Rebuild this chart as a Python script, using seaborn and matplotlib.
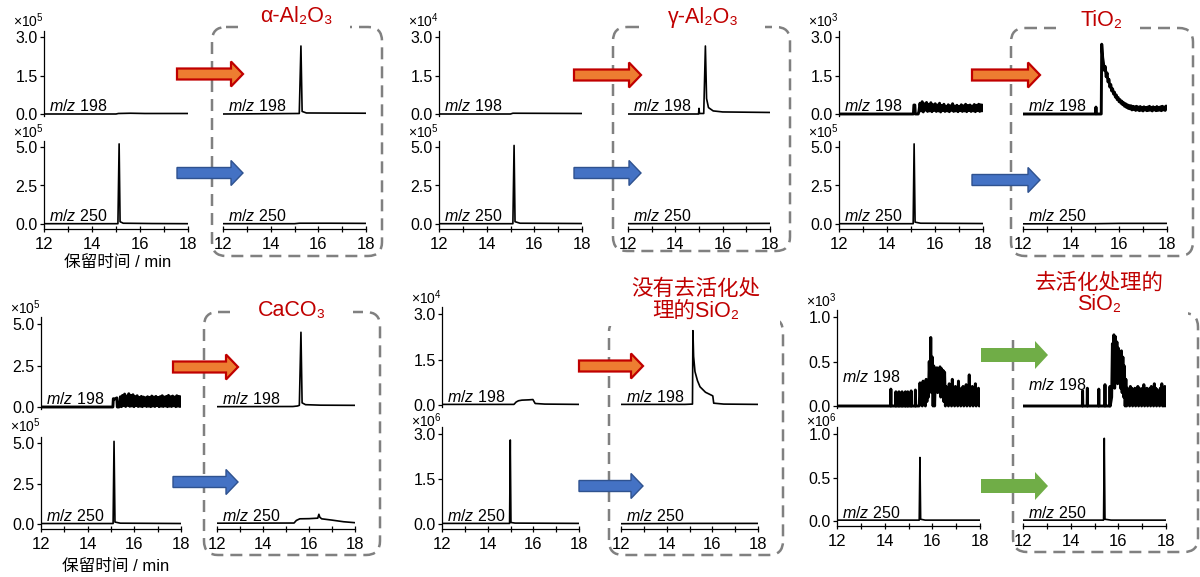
import matplotlib
matplotlib.use("Agg")
import matplotlib.pyplot as plt
import numpy as np
import seaborn as sns
from matplotlib.patches import FancyArrow, FancyBboxPatch, Rectangle
from matplotlib.ticker import MultipleLocator

sns.set_theme(style="ticks")
plt.rcParams["font.family"] = ["Liberation Sans", "Noto Sans CJK SC", "DejaVu Sans"]
plt.rcParams["mathtext.fontset"] = "custom"
plt.rcParams["mathtext.rm"] = "Liberation Sans"
plt.rcParams["mathtext.it"] = "Liberation Sans:italic"
plt.rcParams["axes.facecolor"] = "none"
plt.rcParams["axes.edgecolor"] = "black"
for k in ("text.color", "xtick.color", "ytick.color", "axes.labelcolor"):
    plt.rcParams[k] = "black"

# ---------------- data: retention time (min) / intensity in panel units ----------------
samples = ["α-Al₂O₃", "γ-Al₂O₃", "TiO₂", "CaCO₃", "没有去活化处\n理的SiO₂", "去活化处理的\nSiO₂"]
exp_198 = [5, 4, 3, 5, 4, 3]
exp_250 = [5, 5, 5, 5, 6, 6]
ymax_198 = [3.0, 3.0, 3.0, 5.0, 3.0, 1.0]
ymax_250 = [5.0, 5.0, 5.0, 5.0, 3.0, 1.0]
arrow_kind = ["orange", "orange", "orange", "orange", "orange", "green"]

# α-Al2O3
aal_l198_t = [12, 15.0, 15.1, 15.6, 16.2, 18]
aal_l198_y = [0, 0, 0.02, 0.03, 0.02, 0.02]
aal_l250_t = [12, 15.08, 15.13, 15.17, 15.3, 16.5, 18]
aal_l250_y = [0.02, 0.02, 5.2, 0.15, 0.05, 0.03, 0.02]
aal_r198_t = [12, 15.2, 15.27, 15.32, 15.5, 18]
aal_r198_y = [0, 0.02, 2.65, 0.1, 0.04, 0.03]
aal_r250_t = [12, 15.0, 15.2, 16.5, 18]
aal_r250_y = [0.02, 0.02, 0.05, 0.05, 0.04]

# γ-Al2O3
gal_l198_t = [12, 15.0, 15.1, 18]
gal_l198_y = [0, 0, 0.03, 0.02]
gal_l250_t = [12, 15.1, 15.15, 15.19, 15.4, 18]
gal_l250_y = [0.02, 0.02, 5.1, 0.15, 0.05, 0.03]
gal_r198_t = [12, 14.98, 15.0, 15.02, 15.2, 15.27, 15.32, 15.4, 15.6, 16.0, 18]
gal_r198_y = [0, 0, 0.22, 0.02, 0.02, 2.65, 0.6, 0.25, 0.12, 0.08, 0.06]
gal_r250_t = [12, 15.0, 18]
gal_r250_y = [0.02, 0.03, 0.04]

# TiO2
tio_l198_t = [12, 15.1, 15.12, 15.16, 15.18, 15.3]
tio_l198_y = [0, 0, 0.35, 0.35, 0, 0]
tio_l198_span = (15.33, 18.0)
tio_l198_noise = [0.10, 0.42, 0.12, 0.48, 0.08, 0.40, 0.15, 0.45, 0.10, 0.38, 0.12, 0.44,
                  0.09, 0.36, 0.14, 0.40, 0.10, 0.35, 0.12, 0.42, 0.08, 0.33, 0.13, 0.38,
                  0.10, 0.30, 0.12, 0.36, 0.09, 0.32, 0.14, 0.40, 0.10, 0.31, 0.12, 0.34,
                  0.09, 0.30, 0.13, 0.36, 0.10, 0.32, 0.12, 0.38, 0.09, 0.33, 0.14, 0.35,
                  0.10, 0.31, 0.12, 0.37, 0.09, 0.34, 0.13, 0.38, 0.10, 0.36, 0.12, 0.35]
tio_l250_t = [12, 15.09, 15.13, 15.17, 15.4, 18]
tio_l250_y = [0.02, 0.02, 5.2, 0.12, 0.05, 0.03]
tio_r198_t = [12, 15.02, 15.04, 15.06, 15.26, 15.28, 15.32]
tio_r198_y = [0, 0, 0.27, 0, 0, 2.72, 2.2]
tio_r198_span = (15.35, 18.0)
tio_r198_noise = [2.0, 1.7, 1.85, 1.45, 1.6, 1.25, 1.35, 1.05, 1.15, 0.9, 0.98, 0.78, 0.85, 0.66,
                  0.74, 0.56, 0.64, 0.48, 0.56, 0.42, 0.5, 0.36, 0.44, 0.3, 0.4, 0.26, 0.36, 0.22,
                  0.33, 0.2, 0.32, 0.16, 0.3, 0.18, 0.28, 0.14, 0.3, 0.16, 0.27, 0.13, 0.29, 0.15,
                  0.26, 0.12, 0.28, 0.16, 0.25, 0.13, 0.27, 0.14, 0.3, 0.15, 0.26, 0.12, 0.28, 0.16,
                  0.25, 0.13, 0.29, 0.14, 0.26, 0.15, 0.28, 0.13, 0.3, 0.16, 0.27, 0.14, 0.31, 0.2]
tio_r250_t = [12, 15.0, 16, 18]
tio_r250_y = [0.01, 0.02, 0.04, 0.04]

# CaCO3
cac_l198_t = [12, 15.08, 15.1, 15.12, 15.25, 15.27, 15.34]
cac_l198_y = [0, 0, 0.5, 0.45, 0.55, 0, 0]
cac_l198_span = (15.36, 18.0)
cac_l198_noise = [0.05, 0.62, 0.02, 0.7, 0.08, 0.78, 0.03, 0.66, 0.1, 0.8, 0.04, 0.7, 0.06, 0.74,
                  0.02, 0.62, 0.08, 0.68, 0.03, 0.58, 0.05, 0.64, 0.02, 0.6, 0.07, 0.56, 0.03, 0.62,
                  0.05, 0.58, 0.02, 0.66, 0.06, 0.6, 0.03, 0.64, 0.08, 0.58, 0.02, 0.62, 0.05, 0.68,
                  0.03, 0.6, 0.06, 0.64, 0.02, 0.7, 0.05, 0.62, 0.03, 0.66, 0.07, 0.6, 0.02, 0.68,
                  0.05, 0.64, 0.03, 0.62]
cac_l250_t = [12, 15.09, 15.13, 15.17, 15.4, 18]
cac_l250_y = [0.03, 0.03, 5.1, 0.12, 0.05, 0.03]
cac_r198_t = [12, 15.3, 15.5, 15.58, 15.65, 15.7, 15.85, 16.5, 18]
cac_r198_y = [0.02, 0.03, 0.06, 0.1, 4.5, 0.25, 0.14, 0.11, 0.1]
cac_r250_t = [12, 15.35, 15.45, 15.6, 16.0, 16.38, 16.43, 16.47, 16.55, 17.0, 17.5, 18]
cac_r250_y = [0.05, 0.06, 0.22, 0.32, 0.33, 0.36, 0.6, 0.42, 0.32, 0.24, 0.14, 0.08]

# SiO2 without deactivation
sun_l198_t = [12, 15.15, 15.25, 15.35, 15.5, 15.8, 15.98, 16.08, 16.5, 18]
sun_l198_y = [0.02, 0.02, 0.1, 0.14, 0.16, 0.17, 0.18, 0.05, 0.03, 0.02]
sun_l250_t = [12, 14.96, 14.99, 15.02, 15.2, 18]
sun_l250_y = [0.02, 0.02, 2.8, 0.05, 0.03, 0.02]
sun_r198_t = [12, 14.8, 15.13, 15.15, 15.18, 15.24, 15.35, 15.46, 15.7, 15.97, 16.02, 16.06, 16.5, 18]
sun_r198_y = [0.02, 0.02, 0.03, 2.45, 1.6, 1.1, 0.8, 0.6, 0.42, 0.32, 0.3, 0.06, 0.03, 0.02]
sun_r250_t = [12, 15.0, 18]
sun_r250_y = [0.01, 0.02, 0.02]

# deactivated SiO2
dsi_l198_spike_t = [14.26, 14.47, 14.60, 14.73, 14.87, 14.97, 15.11, 15.29]
dsi_l198_spike_h = [0.19, 0.16, 0.16, 0.16, 0.16, 0.16, 0.17, 0.18]
dsi_l198_span = (15.45, 18.0)
dsi_l198_noise = [0, 0.26, 0.02, 0.22, 0, 0.28, 0.03, 0.25, 0, 0.3, 0.05, 0.28,
                  0.1, 0.5, 0.2, 0.77, 0.15, 0.55,
                  0, 0.45, 0, 0.35,
                  0.2, 0.43, 0.15, 0.40, 0.25, 0.44, 0.1, 0.42, 0.2, 0.40, 0.05, 0.38,
                  0, 0.22, 0.05, 0.18, 0, 0.25, 0.08, 0.2, 0, 0.3, 0.05, 0.18, 0, 0.22,
                  0.06, 0.2, 0, 0.28, 0.04, 0.18, 0, 0.2, 0.05, 0.22, 0, 0.18, 0.06, 0.24,
                  0, 0.2, 0.05, 0.35, 0, 0.18, 0.04, 0.22, 0, 0.2, 0.05, 0.25, 0, 0.18,
                  0.04, 0.2, 0, 0.16]
dsi_l250_t = [12, 15.45, 15.48, 15.51, 15.7, 18]
dsi_l250_y = [0.01, 0.01, 0.73, 0.02, 0.01, 0.01]
dsi_r198_spike_t = [14.50, 14.70, 15.18, 15.44, 15.65]
dsi_r198_spike_h = [0.17, 0.20, 0.19, 0.24, 0.22]
dsi_r198_span = (15.72, 17.95)
dsi_r198_noise = [0.1, 0.7, 0.3, 0.8, 0.2, 0.78, 0.35, 0.72, 0.25, 0.65, 0.3, 0.6, 0.2, 0.62,
                  0.15, 0.55, 0.1, 0.45, 0, 0.3,
                  0, 0.2, 0.05, 0.18, 0, 0.22, 0.04, 0.2, 0, 0.18, 0.05, 0.2, 0, 0.16,
                  0.03, 0.22, 0, 0.2, 0.05, 0.18, 0, 0.2, 0.04, 0.24, 0, 0.18, 0.05, 0.2,
                  0, 0.16, 0.03, 0.2, 0, 0.22, 0.05, 0.18, 0, 0.25, 0.04, 0.2, 0, 0.18,
                  0.05, 0.16, 0, 0.2, 0.03, 0.25, 0, 0.18, 0, 0.22]
dsi_r250_t = [12, 15.38, 15.41, 15.44, 15.7, 18]
dsi_r250_y = [0.01, 0.01, 0.95, 0.02, 0.01, 0.01]


def noise_part(span, vals):
    return list(np.linspace(span[0], span[1], len(vals))), list(vals)


def spike_part(ts, hs):
    t, y = [12.0], [0.0]
    for ti, hi in zip(ts, hs):
        t += [ti - 0.01, ti, ti + 0.01]
        y += [0, hi, 0]
    return t, y


def join(*parts):
    t, y = [], []
    for pt, py in parts:
        t += list(pt)
        y += list(py)
    return np.array(t, dtype=float), np.array(y, dtype=float)


left_198 = [
    join((aal_l198_t, aal_l198_y)),
    join((gal_l198_t, gal_l198_y)),
    join((tio_l198_t, tio_l198_y), noise_part(tio_l198_span, tio_l198_noise)),
    join((cac_l198_t, cac_l198_y), noise_part(cac_l198_span, cac_l198_noise)),
    join((sun_l198_t, sun_l198_y)),
    join(spike_part(dsi_l198_spike_t, dsi_l198_spike_h), noise_part(dsi_l198_span, dsi_l198_noise)),
]
left_250 = [join((aal_l250_t, aal_l250_y)), join((gal_l250_t, gal_l250_y)),
            join((tio_l250_t, tio_l250_y)), join((cac_l250_t, cac_l250_y)),
            join((sun_l250_t, sun_l250_y)), join((dsi_l250_t, dsi_l250_y))]
right_198 = [
    join((aal_r198_t, aal_r198_y)),
    join((gal_r198_t, gal_r198_y)),
    join((tio_r198_t, tio_r198_y), noise_part(tio_r198_span, tio_r198_noise)),
    join((cac_r198_t, cac_r198_y)),
    join((sun_r198_t, sun_r198_y)),
    join(spike_part(dsi_r198_spike_t, dsi_r198_spike_h), noise_part(dsi_r198_span, dsi_r198_noise),
         ([18.0], [0.0])),
]
right_250 = [join((aal_r250_t, aal_r250_y)), join((gal_r250_t, gal_r250_y)),
             join((tio_r250_t, tio_r250_y)), join((cac_r250_t, cac_r250_y)),
             join((sun_r250_t, sun_r250_y)), join((dsi_r250_t, dsi_r250_y))]

# ---------------- layout in pixels ----------------
W, H = 1200, 577
x_px = [(44, 188, 223, 366), (439, 582, 628, 770), (839, 983, 1023, 1167),
        (41, 181, 217, 355), (442, 579, 621, 758), (837, 980, 1023, 1166)]
y_px = [((114, 37), (224, 147))] * 3 + [((407, 324), (524, 443)), ((405, 314), (524, 434)),
                                         ((406, 317), (521, 434))]
mz_dy_198 = [(8, 8)] * 5 + [(29, 21)]
boxes = [(212, 27, 382, 256), (613, 27, 790, 251), (1011, 28, 1193, 256),
         (204, 312, 380, 555), (609, 318, 783, 555), (1013, 313, 1198, 552)]
covers = [(240, 5, 350, 31), (640, 5, 765, 31), (1060, 5, 1140, 33),
          (233, 298, 353, 326), (600, 270, 780, 326), (1000, 260, 1188, 334)]
title_xy = [(296, 17), (703, 17), (1102, 21), (292, 311), (696, 300), (1099, 294)]
arrow_x = [(177, 243), (574, 641), (972, 1040), (173, 238), (579, 643), (981, 1048)]
arrow_y = [(74, 173), (75, 173), (75, 180), (367, 482), (366, 486), (355, 486)]
xlabel_xy = [(118, 262), (116, 567)]

fig = plt.figure(figsize=(W / 100, H / 100), dpi=100)
ov = fig.add_axes([0, 0, 1, 1], zorder=-1)
ov.set_xlim(0, W)
ov.set_ylim(H, 0)
ov.axis("off")


def make_ax(x0, x1, zero, tick, tmax):
    ppu = (zero - tick) / tmax
    lo, hi = -0.02 * tmax, 1.08 * tmax
    top = zero - hi * ppu
    bot = zero - lo * ppu
    ax = fig.add_axes([x0 / W, 1 - bot / H, (x1 - x0) / W, (bot - top) / H])
    ax.set_xlim(12, 18)
    ax.set_ylim(lo, hi)
    return ax


def style(ax, tmax, show_y, show_x):
    for s in ("top", "right"):
        ax.spines[s].set_visible(False)
    for s in ("left", "bottom"):
        ax.spines[s].set_linewidth(0.9)
    if show_y:
        vals = [0, tmax / 2, tmax]
        ax.set_yticks(vals)
        ax.set_yticklabels([f"{v:.1f}" for v in vals])
        ax.tick_params(axis="y", direction="out", length=3, width=0.9, pad=1.5, labelsize=11.5)
    else:
        ax.spines["left"].set_visible(False)
        ax.set_yticks([])
    if show_x:
        ax.spines["bottom"].set_position(("outward", 2.5))
        ax.set_xticks([12, 14, 16, 18])
        ax.xaxis.set_minor_locator(MultipleLocator(1))
        ax.tick_params(axis="x", which="major", direction="inout", length=5, width=0.9,
                       pad=3, labelsize=12)
        ax.tick_params(axis="x", which="minor", direction="inout", length=4, width=0.9)
    else:
        ax.spines["bottom"].set_visible(False)
        ax.set_xticks([])
    ax.set_xlabel("")
    ax.set_ylabel("")


arrow_style = {
    "orange": dict(fc="#ED7D31", ec="#C00000", lw=1.6, width=11, head_width=25, head_length=12),
    "blue": dict(fc="#4472C4", ec="#2F528F", lw=1.0, width=11, head_width=25, head_length=12),
    "green": dict(fc="#70AD47", ec="none", lw=0, width=14, head_width=28, head_length=13),
}

for i in range(6):
    lx0, lx1, rx0, rx1 = x_px[i]
    (z1, k1), (z2, k2) = y_px[i]
    # multiplier labels: above the upper trace, and midway between the two left panels
    exp_y_top = k1 - 16
    exp_y_bot = (z1 + k2) / 2 + 1
    traces = [(lx0, lx1, z1, k1, ymax_198[i], left_198[i], True, False, "198", exp_198[i], mz_dy_198[i][0], exp_y_top),
              (lx0, lx1, z2, k2, ymax_250[i], left_250[i], True, True, "250", exp_250[i], 8, exp_y_bot),
              (rx0, rx1, z1, k1, ymax_198[i], right_198[i], False, False, "198", None, mz_dy_198[i][1], 0),
              (rx0, rx1, z2, k2, ymax_250[i], right_250[i], False, True, "250", None, 8, 0)]
    for x0, x1, zero, tick, tmax, (t, y), show_y, show_x, mz, ex, dy, ey in traces:
        ax = make_ax(x0, x1, zero, tick, tmax)
        lw = 2.1 if len(t) > 40 else 1.2
        sns.lineplot(x=t, y=y, ax=ax, color="black", lw=lw, estimator=None, sort=False)
        style(ax, tmax, show_y, show_x)
        ov.text(x0 + 5, zero - dy, f"$m/z$ {mz}", fontsize=11.5, ha="left", va="center")
        if ex is not None:
            ov.text(x0 - 31, ey, f"×10$^{ex}$", fontsize=10, ha="left", va="center")

    # dashed frame around the treated column
    bx0, by0, bx1, by1 = boxes[i]
    ov.add_patch(FancyBboxPatch((bx0, by0), bx1 - bx0, by1 - by0,
                                boxstyle="round,pad=0,rounding_size=14", fill=False,
                                ec="#808080", lw=1.8, ls=(0, (4.8, 2.8)), zorder=1))
    cx0, cy0, cx1, cy1 = covers[i]
    ov.add_patch(Rectangle((cx0, cy0), cx1 - cx0, cy1 - cy0, fc="white", ec="none", zorder=2))
    ov.text(*title_xy[i], samples[i], color="#C00000", fontsize=15.5, ha="center", va="center",
            linespacing=1.05, zorder=3)

    # arrows
    ax0, ax1 = arrow_x[i]
    for ay, kind in zip(arrow_y[i], (arrow_kind[i], "blue" if arrow_kind[i] == "orange" else "green")):
        st = arrow_style[kind]
        ov.add_patch(FancyArrow(ax0, ay, ax1 - ax0, 0, width=st["width"], head_width=st["head_width"],
                                head_length=st["head_length"], length_includes_head=True,
                                fc=st["fc"], ec=st["ec"], lw=st["lw"], zorder=3))

for x, y in xlabel_xy:
    ov.text(x, y, "保留时间 / min", fontsize=12, ha="center", va="center")

fig.savefig("out.png", dpi=100)
